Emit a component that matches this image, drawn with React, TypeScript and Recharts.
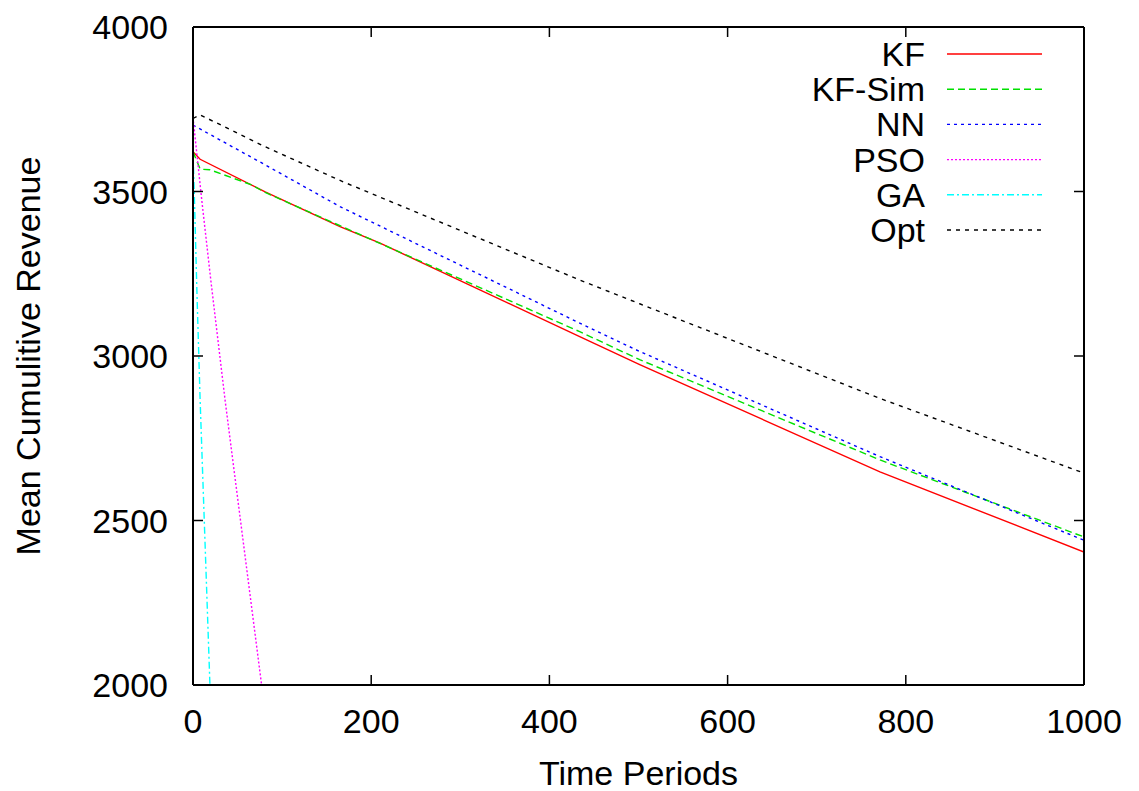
import React from "react";
import { LineChart, Line, XAxis, YAxis, Legend } from "recharts";

// tick values
const xTicks = [0, 200, 400, 600, 800, 1000];
const yTicks = [2000, 2500, 3000, 3500, 4000];

// series (x = time period, y = mean cumulative revenue)
const kfX = [0, 8, 81, 165, 210, 434, 502, 771, 1000];
const kfY = [3621, 3598, 3499, 3393, 3343, 3059, 2973, 2648, 2404];

const kfSimX = [0, 8, 19, 66, 81, 165, 434, 502, 771, 1000];
const kfSimY = [3621, 3568, 3566, 3520, 3497, 3396, 3074, 2988, 2684, 2450];

const nnX = [0, 81, 165, 434, 502, 771, 1000];
const nnY = [3702, 3581, 3454, 3100, 3013, 2694, 2440];

const psoX = [0, 10, 20, 36, 50, 77, 90];
const psoY = [3725, 3470, 3230, 2866, 2570, 2000, 1730];

const gaX = [0, 1.5, 4.5, 8, 19, 25];
const gaY = [3620, 3489, 3185, 2866, 2000, 1530];

const optX = [0, 8, 81, 168, 434, 502, 771, 1000];
const optY = [3722, 3733, 3636, 3530, 3231, 3158, 2871, 2644];

function toPoints(xs: number[], ys: number[]) {
  return xs.map((x, i) => ({ x: x, y: ys[i] }));
}

const series = [
  { name: "KF", color: "#ff0000", dash: "", data: toPoints(kfX, kfY) },
  { name: "KF-Sim", color: "#00e000", dash: "7 4", data: toPoints(kfSimX, kfSimY) },
  { name: "NN", color: "#0000ff", dash: "3 4", data: toPoints(nnX, nnY) },
  { name: "PSO", color: "#ff00ff", dash: "2 2", data: toPoints(psoX, psoY) },
  { name: "GA", color: "#00ffff", dash: "7 3 2 3", data: toPoints(gaX, gaY) },
  { name: "Opt", color: "#000000", dash: "4 5", data: toPoints(optX, optY) },
];

const FONT = "'Liberation Sans', Arial, Helvetica, sans-serif";
const FS = 34;
const TICK = 10;

function BottomTick(props: any) {
  const { x, y, payload } = props;
  return (
    <g>
      <line x1={x} y1={y} x2={x} y2={y - TICK} stroke="#000" strokeWidth={1.5} />
      <text x={x} y={y + 36} textAnchor="middle" dominantBaseline="central" fontSize={FS} fontFamily={FONT} fill="#000">
        {payload.value}
      </text>
    </g>
  );
}

function TopTick(props: any) {
  const { x, y } = props;
  return <line x1={x} y1={y} x2={x} y2={y + TICK} stroke="#000" strokeWidth={1.5} />;
}

function LeftTick(props: any) {
  const { x, y, payload } = props;
  return (
    <g>
      <line x1={x} y1={y} x2={x + TICK} y2={y} stroke="#000" strokeWidth={1.5} />
      <text x={x - 25} y={y} textAnchor="end" dominantBaseline="central" fontSize={FS} fontFamily={FONT} fill="#000">
        {payload.value}
      </text>
    </g>
  );
}

function RightTick(props: any) {
  const { x, y } = props;
  return <line x1={x} y1={y} x2={x - TICK} y2={y} stroke="#000" strokeWidth={1.5} />;
}

function renderLegend() {
  return (
    <svg width={270} height={220} style={{ display: "block" }}>
      {series.map((s, i) => {
        const cy = 18 + i * 35.2;
        return (
          <g key={s.name}>
            <text x={145} y={cy} textAnchor="end" dominantBaseline="central" fontSize={FS} fontFamily={FONT} fill="#000">
              {s.name}
            </text>
            <line x1={167} y1={cy} x2={262} y2={cy} stroke={s.color} strokeWidth={1.4} strokeDasharray={s.dash || undefined} />
          </g>
        );
      })}
    </svg>
  );
}

export default function App() {
  return (
    <div style={{ position: "absolute", left: 0, top: 0, background: "#fff" }}>
      <LineChart width={1139} height={791} margin={{ top: 26, right: 54, bottom: 0, left: 0 }}>
        <XAxis
          dataKey="x"
          type="number"
          domain={[0, 1000]}
          ticks={xTicks}
          height={106}
          tickSize={0}
          tickMargin={0}
          tick={<BottomTick />}
          axisLine={{ stroke: "#000", strokeWidth: 2 }}
          allowDataOverflow
          label={{
            content: (p: any) => {
              const vb = p.viewBox || { x: 193, y: 685, width: 891 };
              return (
                <text x={vb.x + vb.width / 2} y={vb.y + 88} textAnchor="middle" dominantBaseline="central" fontSize={FS} fontFamily={FONT} fill="#000">
                  Time Periods
                </text>
              );
            },
          }}
        />
        <XAxis
          xAxisId="top"
          orientation="top"
          dataKey="x"
          type="number"
          domain={[0, 1000]}
          ticks={xTicks}
          height={1}
          tickSize={0}
          tickMargin={0}
          tick={<TopTick />}
          axisLine={{ stroke: "#000", strokeWidth: 2 }}
          allowDataOverflow
        />
        <YAxis
          type="number"
          domain={[2000, 4000]}
          ticks={yTicks}
          width={193}
          tickSize={0}
          tickMargin={0}
          tick={<LeftTick />}
          axisLine={{ stroke: "#000", strokeWidth: 2 }}
          allowDataOverflow
          label={{
            content: () => (
              <text x={28} y={356} transform="rotate(-90 28 356)" textAnchor="middle" dominantBaseline="central" fontSize={FS} fontFamily={FONT} fill="#000">
                Mean Cumulitive Revenue
              </text>
            ),
          }}
        />
        <YAxis
          yAxisId="right"
          orientation="right"
          type="number"
          domain={[2000, 4000]}
          ticks={yTicks}
          width={1}
          tickSize={0}
          tickMargin={0}
          tick={<RightTick />}
          axisLine={{ stroke: "#000", strokeWidth: 2 }}
          allowDataOverflow
        />
        <Legend
          layout="vertical"
          align="center"
          verticalAlign="middle"
          content={renderLegend}
          wrapperStyle={{ position: "absolute", left: 780, top: 36, width: 270, height: 220 }}
        />
        {series.map((s) => (
          <Line
            key={s.name}
            data={s.data}
            dataKey="y"
            name={s.name}
            type="linear"
            stroke={s.color}
            strokeWidth={1.4}
            strokeDasharray={s.dash || undefined}
            dot={false}
            activeDot={false}
            isAnimationActive={false}
          />
        ))}
      </LineChart>
    </div>
  );
}
